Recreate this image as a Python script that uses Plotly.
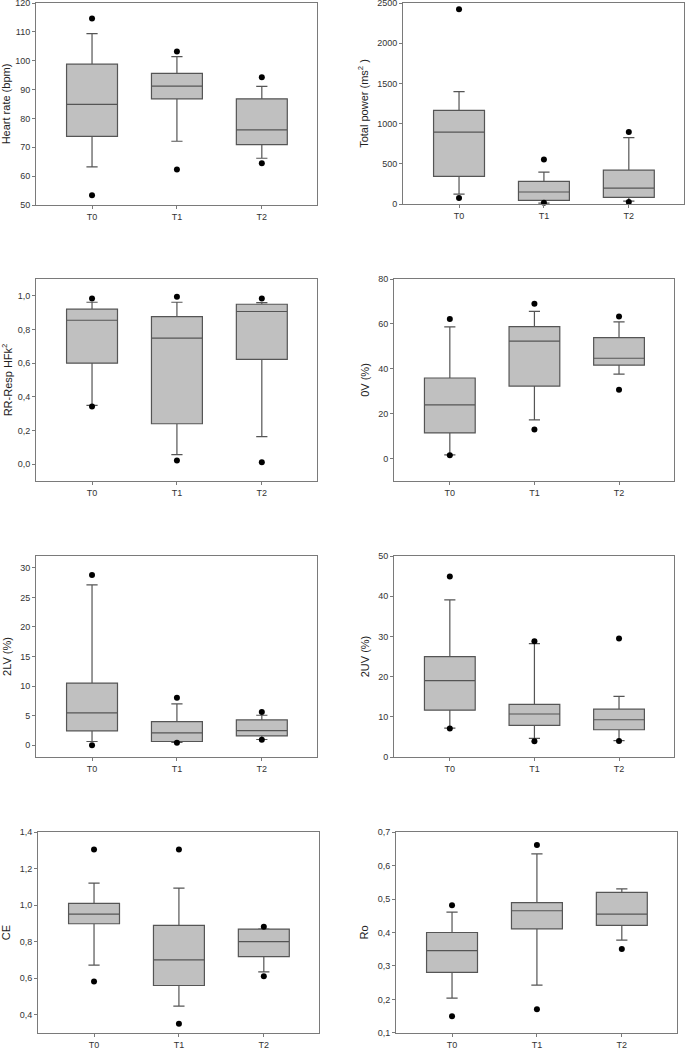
import plotly.graph_objects as go
from plotly.subplots import make_subplots

GROUPS = ["T0", "T1", "T2"]

# Heart rate (bpm)
hr_lo = [63.2, 72.1, 66.2]
hr_q1 = [73.8, 86.8, 70.9]
hr_med = [84.9, 91.2, 76.0]
hr_q3 = [98.8, 95.6, 86.8]
hr_hi = [109.4, 101.4, 91.1]
hr_out_lo = [53.4, 62.3, 64.5]
hr_out_hi = [114.6, 103.2, 94.3]

# Total power (ms2)
tp_lo = [124, 12, 37]
tp_q1 = [343, 45, 83]
tp_med = [893, 149, 198]
tp_q3 = [1165, 281, 421]
tp_hi = [1397, 397, 826]
tp_out_lo = [74, 17, 25]
tp_out_hi = [2421, 554, 897]

# RR-Resp HFk2
rr_lo = [0.349, 0.057, 0.164]
rr_q1 = [0.600, 0.240, 0.622]
rr_med = [0.855, 0.749, 0.907]
rr_q3 = [0.921, 0.877, 0.950]
rr_hi = [0.962, 0.962, 0.960]
rr_out_lo = [0.343, 0.022, 0.012]
rr_out_hi = [0.984, 0.994, 0.984]

# 0V (%)
v0_lo = [1.6, 17.2, 37.6]
v0_q1 = [11.4, 32.3, 41.6]
v0_med = [23.9, 52.3, 44.7]
v0_q3 = [35.9, 58.8, 53.9]
v0_hi = [58.7, 65.6, 60.9]
v0_out_lo = [1.5, 13.0, 30.7]
v0_out_hi = [62.2, 69.0, 63.3]

# 2LV (%)
lv_lo = [0.62, 0.45, 0.96]
lv_q1 = [2.42, 0.62, 1.57]
lv_med = [5.45, 2.08, 2.47]
lv_q3 = [10.5, 3.99, 4.27]
lv_hi = [27.1, 6.97, 5.06]
lv_out_lo = [0.0, 0.39, 0.90]
lv_out_hi = [28.8, 8.03, 5.62]

# 2UV (%)
uv_lo = [7.19, 4.63, 4.05]
uv_q1 = [11.65, 7.85, 6.78]
uv_med = [19.0, 10.7, 9.26]
uv_q3 = [24.96, 13.1, 11.9]
uv_hi = [39.1, 28.2, 15.1]
uv_out_lo = [7.1, 3.9, 3.97]
uv_out_hi = [44.9, 28.8, 29.5]

# CE
ce_lo = [0.671, 0.447, 0.635]
ce_q1 = [0.898, 0.560, 0.718]
ce_med = [0.951, 0.700, 0.800]
ce_q3 = [1.009, 0.889, 0.869]
ce_hi = [1.120, 1.093, 0.870]
ce_out_lo = [0.582, 0.351, 0.611]
ce_out_hi = [1.304, 1.304, 0.882]

# Ro
ro_lo = [0.204, 0.243, 0.377]
ro_q1 = [0.281, 0.411, 0.421]
ro_med = [0.346, 0.465, 0.455]
ro_q3 = [0.400, 0.489, 0.520]
ro_hi = [0.461, 0.635, 0.530]
ro_out_lo = [0.150, 0.171, 0.351]
ro_out_hi = [0.481, 0.661, None]

W, H = 685, 1049

panels = [
    dict(title="Heart rate (bpm)", data=(hr_lo, hr_q1, hr_med, hr_q3, hr_hi, hr_out_lo, hr_out_hi),
         yrange=[50, 120.001], dtick=10, fmt="d", px=(36, 317, 3, 205)),
    dict(title="Total power (ms<sup>2</sup> )", data=(tp_lo, tp_q1, tp_med, tp_q3, tp_hi, tp_out_lo, tp_out_hi),
         yrange=[0, 2500.01], dtick=500, fmt="d", px=(403, 684, 3, 204)),
    dict(title="RR-Resp HFk<sup>2</sup>", data=(rr_lo, rr_q1, rr_med, rr_q3, rr_hi, rr_out_lo, rr_out_hi),
         yrange=[-0.1, 1.1], dtick=0.2, fmt=".1f", px=(36, 317, 279, 481)),
    dict(title="0V (%)", data=(v0_lo, v0_q1, v0_med, v0_q3, v0_hi, v0_out_lo, v0_out_hi),
         yrange=[-10, 80.001], dtick=20, fmt="d", px=(394, 674, 279, 481)),
    dict(title="2LV (%)", data=(lv_lo, lv_q1, lv_med, lv_q3, lv_hi, lv_out_lo, lv_out_hi),
         yrange=[-2, 32], dtick=5, fmt="d", px=(36, 317, 556, 757)),
    dict(title="2UV (%)", data=(uv_lo, uv_q1, uv_med, uv_q3, uv_hi, uv_out_lo, uv_out_hi),
         yrange=[-0.001, 50.001], dtick=10, fmt="d", px=(394, 674, 556, 757)),
    dict(title="CE", data=(ce_lo, ce_q1, ce_med, ce_q3, ce_hi, ce_out_lo, ce_out_hi),
         yrange=[0.3, 1.4001], dtick=0.2, fmt=".1f", px=(38, 319, 832, 1033)),
    dict(title="Ro", data=(ro_lo, ro_q1, ro_med, ro_q3, ro_hi, ro_out_lo, ro_out_hi),
         yrange=[0.0999, 0.7001], dtick=0.1, fmt=".1f", px=(396, 677, 832, 1033)),
]

fig = make_subplots(rows=4, cols=2)

for i, p in enumerate(panels):
    row, col = i // 2 + 1, i % 2 + 1
    lo, q1, med, q3, hi, out_lo, out_hi = p["data"]
    fig.add_trace(go.Box(
        x=GROUPS, q1=q1, median=med, q3=q3, lowerfence=lo, upperfence=hi,
        fillcolor="#c0c0c0", line=dict(color="#555555", width=1.2),
        width=0.6, whiskerwidth=0.22, boxpoints=False, showlegend=False,
    ), row=row, col=col)
    xs, ys = [], []
    for g, a, b in zip(GROUPS, out_lo, out_hi):
        for v in (a, b):
            if v is not None:
                xs.append(g)
                ys.append(v)
    fig.add_trace(go.Scatter(
        x=xs, y=ys, mode="markers", showlegend=False, cliponaxis=False,
        marker=dict(color="black", size=6),
    ), row=row, col=col)

    x0, x1, y0, y1 = p["px"]
    fig.update_xaxes(domain=[x0 / W, x1 / W], range=[-0.66, 2.65],
                     row=row, col=col)
    fig.update_yaxes(domain=[1 - y1 / H, 1 - y0 / H], range=p["yrange"],
                     dtick=p["dtick"], tick0=0, tickformat=p["fmt"],
                     title=dict(text=p["title"], standoff=6,
                                font=dict(size=11, color="#222")),
                     row=row, col=col)

axis_style = dict(
    showline=True, mirror=True, linecolor="#7a7a7a", linewidth=1,
    ticks="outside", ticklen=3, tickcolor="#7a7a7a",
    showgrid=False, zeroline=False, automargin=False,
    ticklabeloverflow="allow",
    tickfont=dict(size=9, color="#333"),
)
fig.update_xaxes(**axis_style)
fig.update_yaxes(**axis_style)

fig.update_layout(
    width=W, height=H,
    margin=dict(l=0, r=0, t=0, b=0),
    paper_bgcolor="white", plot_bgcolor="white",
    separators=",.",
    font=dict(family="Liberation Sans, Arial, sans-serif", color="#333"),
    showlegend=False,
)

# the page body has a default 8px margin; drop it so the figure fills the window
fig.write_html("out.html", config={"displayModeBar": False},
               post_script="document.body.style.margin='0';")
